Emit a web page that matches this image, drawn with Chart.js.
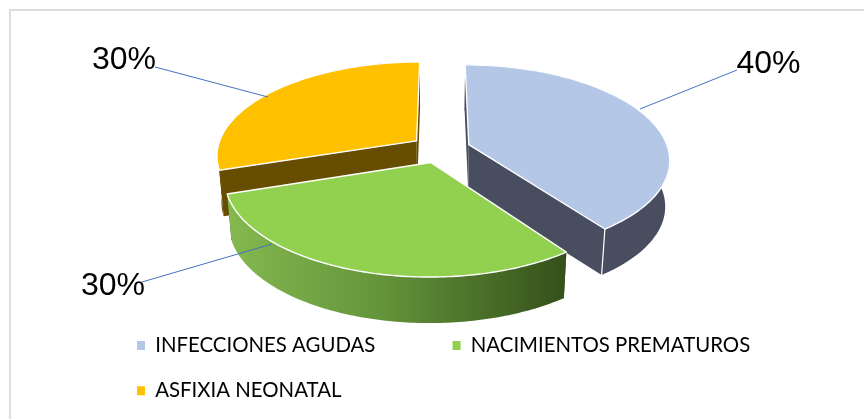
<!DOCTYPE html>
<html><head><meta charset="utf-8">
<style>html,body{margin:0;padding:0;background:#fff}#w{width:864px;height:419px;position:relative}</style>
<script src="https://cdn.jsdelivr.net/npm/chart.js@4"></script>
</head><body><div id="w"><canvas id="c" width="864" height="419"></canvas></div>
<script>
const categories = ['INFECCIONES AGUDAS', 'NACIMIENTOS PREMATUROS', 'ASFIXIA NEONATAL'];
const shares = [40, 30, 30];
const topColors = ['#B4C7E7', '#92D050', '#FFC000'];
const wallColors = ['#484E5F', '#3A5519', '#664D00'];

const view = { X0: 440.5, Y0: 149, R: 199.5, S: 93, k: 0.149, depth: 46, shrink: 0.98, explode: 0.15 };
const labelAnchors = [[768.5, 64, 640, 109, 737, 70], [113, 286, 272, 244, 142, 282], [124, 60, 268, 97, 155, 67]];

function project(u, v) {
  const w = 1 / (1 - view.k * v);
  return [view.X0 + view.R * u * w, view.Y0 + view.S * v * w];
}
function below(p) {
  return [view.X0 + (p[0] - view.X0) * view.shrink, p[1] + view.depth];
}
function arcPoints(a0, a1, dx, dy) {
  const pts = [], n = 120;
  for (let i = 0; i <= n; i++) {
    const a = a0 + (a1 - a0) * i / n;
    pts.push(project(Math.cos(a) + dx, Math.sin(a) + dy));
  }
  return pts;
}
function poly(ctx, pts) {
  ctx.beginPath();
  pts.forEach((p, i) => i ? ctx.lineTo(p[0], p[1]) : ctx.moveTo(p[0], p[1]));
  ctx.closePath();
}
const pie3d = {
  id: 'pie3d',
  beforeDraw(chart) {
    const ctx = chart.ctx;
    ctx.save();
    ctx.strokeStyle = '#DDDDDD';
    ctx.lineWidth = 2;
    ctx.beginPath();
    ctx.moveTo(10, 425); ctx.lineTo(10, 10); ctx.lineTo(870, 10);
    ctx.stroke();
    ctx.restore();
  },
  beforeDatasetDraw(chart) {
    const ctx = chart.ctx, arcs = chart.getDatasetMeta(0).data;
    const order = [2, 0, 1];
    ctx.save();
    ctx.lineJoin = 'round';
    for (const i of order) {
      const el = arcs[i], a0 = el.startAngle, a1 = el.endAngle, mid = (a0 + a1) / 2;
      const e = view.explode;
      const dx = Math.cos(mid) * e, dy = Math.sin(mid) * e;
      const rim = arcPoints(a0, a1, dx, dy);
      const apex = project(dx, dy);
      let wall = wallColors[i];
      if (i === 1) {
        const g = ctx.createLinearGradient(228, 0, 568, 0);
        g.addColorStop(0, '#84B950');
        g.addColorStop(0.45, '#64943A');
        g.addColorStop(1, '#34501A');
        wall = g;
      }
      ctx.fillStyle = wall;
      poly(ctx, [apex, rim[0], below(rim[0]), below(apex)]); ctx.fill();
      poly(ctx, [apex, rim[rim.length - 1], below(rim[rim.length - 1]), below(apex)]);
      ctx.fillStyle = i === 1 ? wallColors[1] : wall; ctx.fill();
      ctx.fillStyle = wall;
      poly(ctx, rim.concat(rim.map(below).reverse())); ctx.fill();
      if (i === 0) {
        const c = rim[rim.length - 1], b = below(c);
        ctx.strokeStyle = '#FFFFFF'; ctx.lineWidth = 1.2;
        ctx.beginPath(); ctx.moveTo(c[0], c[1]); ctx.lineTo(b[0], b[1]); ctx.stroke();
      }
      poly(ctx, [apex].concat(rim));
      ctx.fillStyle = el.options.backgroundColor;
      ctx.fill();
      ctx.strokeStyle = '#FFFFFF'; ctx.lineWidth = 1.4;
      ctx.stroke();
    }
    arcs.forEach((el, i) => {
      const L = labelAnchors[i];
      ctx.strokeStyle = '#4472C4'; ctx.lineWidth = 1;
      ctx.beginPath(); ctx.moveTo(L[2], L[3]); ctx.lineTo(L[4], L[5]); ctx.stroke();
      ctx.fillStyle = '#000';
      ctx.font = '32px "Liberation Sans"';
      ctx.textAlign = 'center'; ctx.textBaseline = 'middle';
      ctx.fillText(shares[i] + '%', L[0], L[1]);
    });
    ctx.restore();
    return false;
  }
};
new Chart(document.getElementById('c'), {
  type: 'pie',
  data: { labels: categories, datasets: [{ data: shares, backgroundColor: topColors, borderColor: '#fff', borderWidth: 1 }] },
  plugins: [pie3d],
  options: {
    responsive: false, animation: false,
    layout: { padding: { left: 112, right: 20, top: 0, bottom: 8 } },
    plugins: {
      tooltip: { enabled: false },
      legend: {
        position: 'bottom', align: 'start',
        labels: {
          boxWidth: 8, boxHeight: 9, padding: 25, color: '#595959',
          font: { family: 'Lato', size: 20.4 },
          generateLabels(chart) {
            return categories.map((t, i) => ({
              text: i === 0 ? t + '\u00A0'.repeat(10) : t,
              fillStyle: topColors[i], strokeStyle: topColors[i], lineWidth: 0, index: i
            }));
          }
        }
      }
    }
  }
});
</script></body></html>
